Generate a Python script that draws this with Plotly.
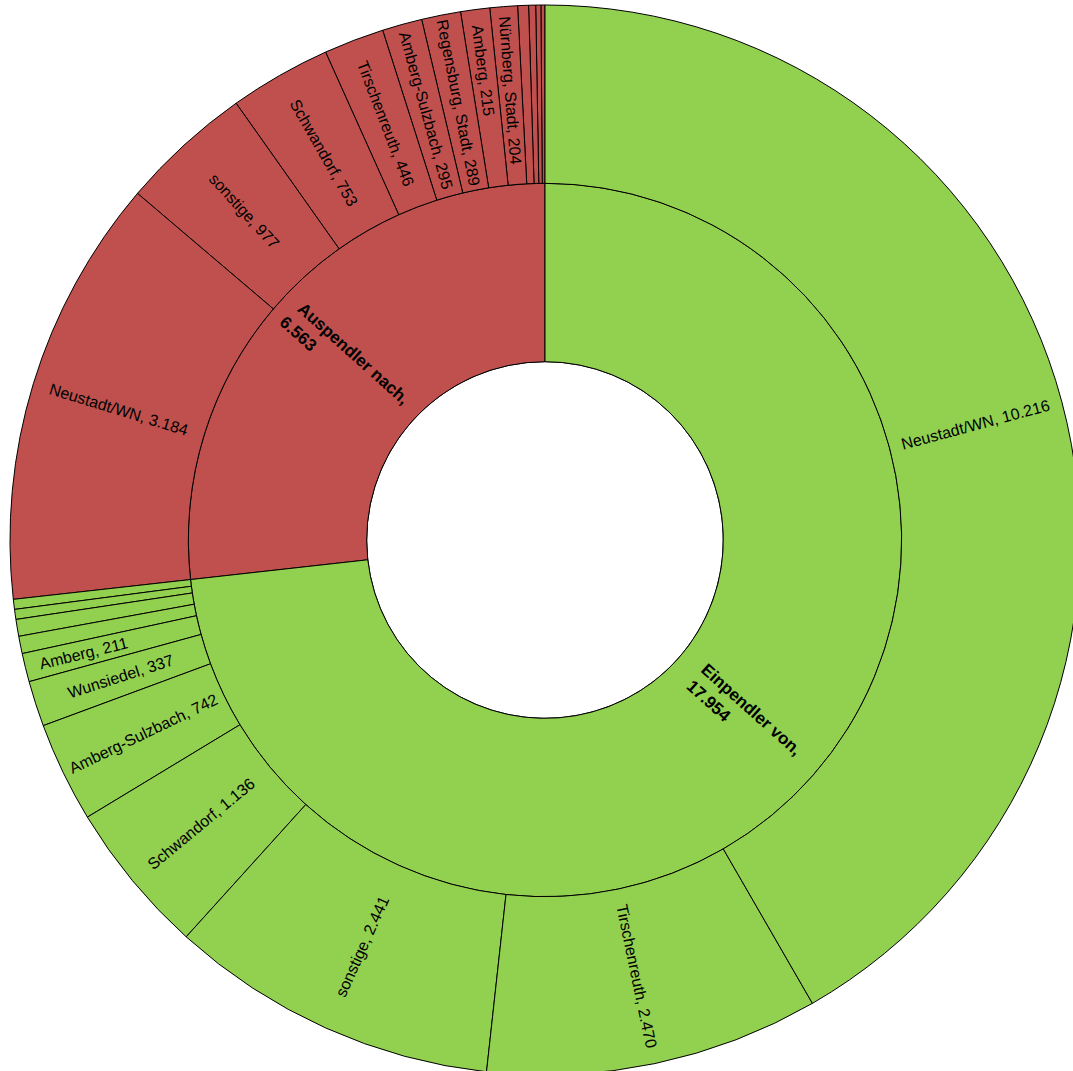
import plotly.graph_objects as go

# Data
group_labels = ["Einpendler von", "Auspendler nach"]
ein_names = ["Neustadt/WN", "Tirschenreuth", "sonstige", "Schwandorf", "Amberg-Sulzbach",
             "Wunsiedel", "Amberg", "Bayreuth", "Cham", "Regensburg", "Nürnberg, Stadt"]
ein_values = [10216, 2470, 2441, 1136, 742, 337, 211, 128, 125, 74, 74]
aus_names = ["Neustadt/WN", "sonstige", "Schwandorf", "Tirschenreuth", "Amberg-Sulzbach",
             "Regensburg, Stadt", "Amberg", "Nürnberg, Stadt", "Bayreuth", "Cham", "München, Stadt", "Wunsiedel"]
aus_values = [3184, 977, 753, 446, 295, 289, 215, 204, 80, 52, 38, 30]
min_labeled = 200

GREEN = "#92D050"
RED = "#C0504D"
FONT = "Liberation Sans, Arial, sans-serif"
NBSP = "\u00a0"


def fmt(v):
    return f"{v:,}".replace(",", ".")


ein_total = sum(ein_values)
aus_total = sum(aus_values)
total = ein_total + aus_total

# ---- main sunburst (slices + most outer labels) ----
# laid out counterclockwise from 12 o'clock: Auspendler (children reversed), then Einpendler (children reversed)
ids, labels, parents, values, texts, colors = [], [], [], [], [], []
ids.append("root"); labels.append(""); parents.append(""); values.append(total)
texts.append(""); colors.append("white")

overlay_outer = []  # (center position in value units, text) for labels drawn by overlay
pos = 0.0
groups = [("aus", group_labels[1], aus_names, aus_values, RED),
          ("ein", group_labels[0], ein_names, ein_values, GREEN)]
for gid, glabel, names, vals, col in groups:
    ids.append(gid); labels.append(glabel); parents.append("root"); values.append(sum(vals))
    texts.append(""); colors.append(col)
    for n, v in reversed(list(zip(names, vals))):
        ids.append(f"{gid}-{n}"); labels.append(n); parents.append(gid); values.append(v)
        colors.append(col)
        if v == max(vals):
            texts.append("")
            overlay_outer.append((pos + v / 2, f"{n}, {fmt(v)}"))
        else:
            texts.append(f"{n}, {fmt(v)}" if v >= min_labeled else "")
        pos += v

main = go.Sunburst(
    ids=ids, labels=labels, parents=parents, values=values,
    branchvalues="total", sort=False, rotation=90,
    text=texts, texttemplate="%{text}",
    insidetextorientation="radial",
    marker=dict(colors=colors, line=dict(color="black", width=1)),
    leaf=dict(opacity=1),
    textfont=dict(family=FONT, size=16, color="black"),
    hovertemplate="%{label}: %{value}<extra></extra>",
)

# ---- transparent overlay: labels centred on the slice mid angle (radial) ----
overlay_inner = [
    (aus_total / 2, f"<b>{group_labels[1]},<br>{fmt(aus_total)}{NBSP * 23}</b>"),
    (aus_total + ein_total / 2, f"<b>{group_labels[0]},<br>{fmt(ein_total)}{NBSP * 16}</b>"),
]
half_inner = total * 0.04
half_outer = total * 0.02


def partition(edges_sets, wedges, half):
    b = set(edges_sets)
    for c, _ in wedges:
        b.add(c - half); b.add(c + half)
    return sorted(b)


b1 = partition({0.0, float(total)}, overlay_inner, half_inner)
b2 = sorted(set(b1) | set(partition(set(), overlay_outer, half_outer)))

o_ids, o_par, o_val, o_txt, o_size = ["o"], [""], [total], [""], [17]
seg1 = list(zip(b1[:-1], b1[1:]))
for i, (s, e) in enumerate(seg1):
    t = ""
    for c, txt in overlay_inner:
        if abs((s + e) / 2 - c) < 1e-6:
            t = txt
    o_ids.append(f"a{i}"); o_par.append("o"); o_val.append(e - s); o_txt.append(t); o_size.append(17)
for j, (s, e) in enumerate(zip(b2[:-1], b2[1:])):
    par = next(f"a{i}" for i, (ps, pe) in enumerate(seg1) if ps - 1e-6 <= s and e <= pe + 1e-6)
    t = ""
    for c, txt in overlay_outer:
        if abs((s + e) / 2 - c) < 1e-6:
            t = txt
    o_ids.append(f"b{j}"); o_par.append(par); o_val.append(e - s); o_txt.append(t); o_size.append(16)

# make parent values exactly match the sum of children
child_sum = {}
for pid, v, cid in zip(o_par, o_val, o_ids):
    if cid.startswith("b"):
        child_sum[pid] = child_sum.get(pid, 0) + v
o_val = [child_sum.get(cid, v) if cid.startswith("a") else v for cid, v in zip(o_ids, o_val)]
o_val[0] = sum(v for cid, v in zip(o_ids, o_val) if cid.startswith("a"))

overlay = go.Sunburst(
    ids=o_ids, labels=o_ids, parents=o_par, values=o_val,
    branchvalues="total", sort=False, rotation=90,
    text=o_txt, texttemplate="%{text}",
    insidetextorientation="radial",
    marker=dict(colors=["rgba(0,0,0,0)"] * len(o_ids), line=dict(width=0)),
    leaf=dict(opacity=1),
    textfont=dict(family=FONT, size=o_size, color="black"),
    hoverinfo="skip",
)

fig = go.Figure([main, overlay])
fig.update_layout(
    width=1080, height=1075,
    margin=dict(l=10, r=0, t=5, b=0),
    paper_bgcolor="white",
    showlegend=False,
)
fig.write_html(
    "out.html",
    config={"displayModeBar": False},
    post_script="document.body.style.margin='0';document.body.style.overflow='hidden';",
)
